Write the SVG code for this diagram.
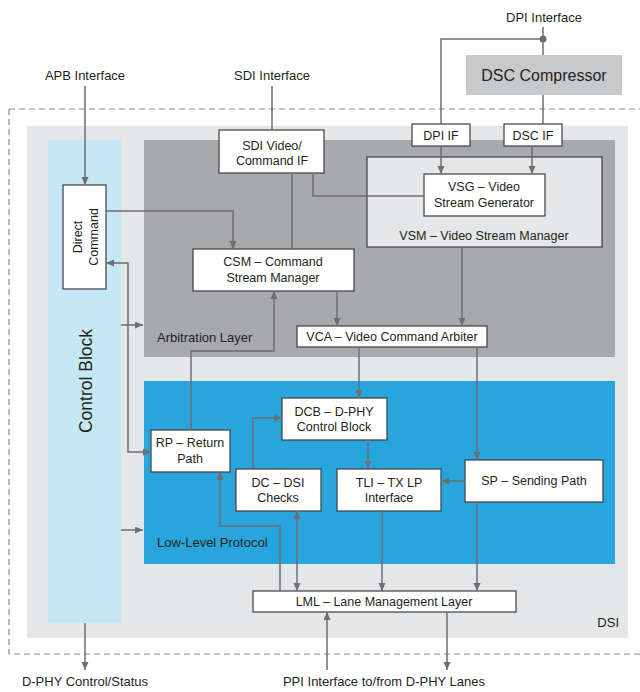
<svg xmlns="http://www.w3.org/2000/svg" width="640" height="692" viewBox="0 0 640 692">
<style>
text{font-family:"Liberation Sans",Arial,sans-serif;fill:#231f20}
.lbl{font-size:13px;text-anchor:middle}
.bx{font-size:12.5px;text-anchor:middle}
.box{fill:#fff;stroke:#3c3c3c;stroke-width:1.2}
.ln{fill:none;stroke:#6d6e71;stroke-width:1.5}
.ar{marker-end:url(#ah)}
.ar2{marker-start:url(#ah);marker-end:url(#ah)}
</style>
<defs>
<marker id="ah" markerUnits="userSpaceOnUse" markerWidth="9" markerHeight="8" refX="8" refY="3.5" orient="auto-start-reverse"><path d="M0,0 L8,3.5 L0,7 z" fill="#6d6e71"/></marker>
</defs>
<g id="dsi-boundary">
<path d="M9,109 H640 M9,109 V654 H640" fill="none" stroke="#8a8b8d" stroke-width="1.2" stroke-dasharray="6,4"/>
</g>
<g id="dsi">
<rect x="27" y="126" width="601" height="512" fill="#e5e6e8"/>
<text x="619" y="627" font-size="13" text-anchor="end">DSI</text>
</g>
<g id="control-block">
<rect x="48" y="140" width="73" height="483" fill="#c6e8f5"/>
<text transform="translate(92,381) rotate(-90)" font-size="17.5" text-anchor="middle">Control Block</text>
</g>
<g id="arbitration-layer">
<rect x="144" y="140" width="471" height="217" fill="#a8a9ad"/>
<text x="157" y="342" font-size="13">Arbitration Layer</text>
</g>
<g id="low-level-protocol">
<rect x="144" y="381" width="471" height="183" fill="#29a5dd"/>
<text x="157" y="547" font-size="13">Low-Level Protocol</text>
</g>
<g id="dsc-compressor">
<rect x="466" y="55" width="156" height="40" fill="#c8c9cb"/>
<text x="544" y="81" font-size="16" text-anchor="middle">DSC Compressor</text>
</g>
<g id="vsm">
<rect x="367" y="157" width="235" height="90" fill="#e6e7e8" stroke="#3c3c3c" stroke-width="1.2"/>
<text class="bx" x="484" y="240">VSM – Video Stream Manager</text>
</g>
<g id="sdi-if">
<rect class="box" x="219" y="130" width="105" height="43"/>
<text class="bx" x="272" y="150">SDI Video/</text>
<text class="bx" x="272" y="165">Command IF</text>
</g>
<g id="dpi-if">
<rect class="box" x="412" y="124" width="58" height="22"/>
<text class="bx" x="441" y="139.5">DPI IF</text>
</g>
<g id="dsc-if">
<rect class="box" x="504" y="124" width="58" height="22"/>
<text class="bx" x="533" y="139.5">DSC IF</text>
</g>
<g id="vsg">
<rect class="box" x="424" y="174" width="121" height="42"/>
<text class="bx" x="484" y="191">VSG – Video</text>
<text class="bx" x="484" y="207">Stream Generator</text>
</g>
<g id="direct-command">
<rect class="box" x="63" y="185" width="43" height="104"/>
<text class="bx" transform="translate(81.5,237) rotate(-90)">Direct</text>
<text class="bx" transform="translate(97.5,237) rotate(-90)">Command</text>
</g>
<g id="csm">
<rect class="box" x="193" y="249" width="161" height="42"/>
<text class="bx" x="273" y="266">CSM – Command</text>
<text class="bx" x="273" y="282">Stream Manager</text>
</g>
<g id="vca">
<rect class="box" x="297" y="326" width="190" height="21"/>
<text class="bx" x="392" y="341">VCA – Video Command Arbiter</text>
</g>
<g id="dcb">
<rect class="box" x="282" y="398" width="105" height="42"/>
<text class="bx" x="334" y="416">DCB – D-PHY</text>
<text class="bx" x="334" y="431">Control Block</text>
</g>
<g id="rp">
<rect class="box" x="151" y="430" width="79" height="42"/>
<text class="bx" x="190" y="447">RP – Return</text>
<text class="bx" x="190" y="463">Path</text>
</g>
<g id="dc">
<rect class="box" x="236" y="469" width="85" height="42"/>
<text class="bx" x="278" y="487">DC – DSI</text>
<text class="bx" x="278" y="502">Checks</text>
</g>
<g id="tli">
<rect class="box" x="337" y="469" width="104" height="42"/>
<text class="bx" x="389" y="487">TLI – TX LP</text>
<text class="bx" x="389" y="502">Interface</text>
</g>
<g id="sp">
<rect class="box" x="465" y="460" width="138" height="42"/>
<text class="bx" x="534" y="485">SP – Sending Path</text>
</g>
<g id="lml">
<rect class="box" x="253" y="591" width="263" height="21"/>
<text class="bx" x="384" y="606">LML – Lane Management Layer</text>
</g>
<g id="labels">
<text class="lbl" x="544" y="22">DPI Interface</text>
<text class="lbl" x="85" y="80">APB Interface</text>
<text class="lbl" x="272" y="80">SDI Interface</text>
<text class="lbl" x="85" y="686">D-PHY Control/Status</text>
<text class="lbl" x="384" y="686">PPI Interface to/from D-PHY Lanes</text>
</g>
<g id="connectors">
<path class="ln ar" d="M85,86 V185"/>
<path class="ln" d="M272,86 V130"/>
<path class="ln" d="M543,27 V55 M543,39 H441 V124 M543,95 V124"/>
<circle cx="543" cy="39" r="3.5" fill="#6d6e71"/>
<path class="ln ar" d="M441,146 V174"/>
<path class="ln ar" d="M532,146 V174"/>
<path class="ln" d="M313,173 V196 H424"/>
<path class="ln" d="M292,173 V249"/>
<path class="ln ar" d="M106,211 H233 V249"/>
<path class="ln ar2" d="M106,263 H128 V452 H151"/>
<path class="ln ar" d="M121,325 H143"/>
<path class="ln ar" d="M121,530 H143"/>
<path class="ln ar" d="M191,430 V351 H274 V291"/>
<path class="ln ar" d="M337,291 V326"/>
<path class="ln ar" d="M462,247 V326"/>
<path class="ln ar" d="M359,347 V398"/>
<path class="ln ar" d="M477,347 V460"/>
<path class="ln ar" d="M253,469 V418 H282"/>
<path class="ln ar" d="M368,440 V469"/>
<path class="ln ar" d="M465,481 H441"/>
<path class="ln ar" d="M382,511 V591"/>
<path class="ln ar" d="M477,502 V591"/>
<path class="ln ar" d="M280,591 V526 H220 V472"/>
<path class="ln ar2" d="M297,511 V591"/>
<path class="ln ar" d="M447,612 V670"/>
<path class="ln ar" d="M327,670 V612"/>
<path class="ln ar" d="M85,623 V670"/>
</g>
</svg>
